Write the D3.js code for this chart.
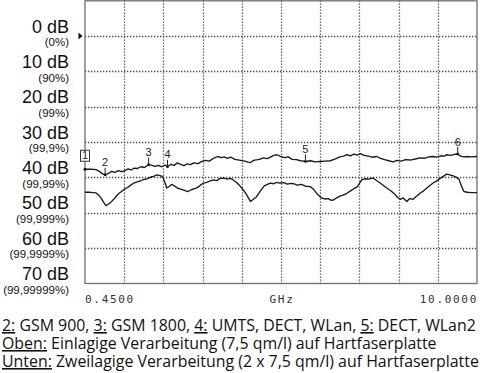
<!DOCTYPE html>
<html lang="de">
<head>
<meta charset="UTF-8">
<title>Dämpfung Hartfaserplatte</title>
<style>
    body { margin: 0; background: #fff; }
    svg { display: block; background: #fff; }
    .frame { fill: none; stroke: #6e6e6e; stroke-width: 1.3; }
    .trace { fill: none; stroke: #1a1a1a; stroke-width: 1.35; stroke-linejoin: round; }
    .dblabel { font-family: "Liberation Sans", Arial, sans-serif; font-size: 18px; fill: #111; text-anchor: end; }
    .pctlabel { font-family: "Liberation Sans", Arial, sans-serif; font-size: 11.5px; fill: #111; text-anchor: end; }
    .xlabel { font-family: "DejaVu Sans Mono", monospace; font-size: 11px; fill: #333; letter-spacing: 1.7px; }
    .mk { font-family: "Liberation Sans", Arial, sans-serif; font-size: 11px; fill: #222; text-anchor: middle; }
    .legend { font-family: "Open Sans", sans-serif; font-size: 15.9px; fill: #111; }
</style>
</head>
<body>
<svg width="480" height="373"></svg>
<script src="https://d3js.org/d3.v7.min.js"></script>
<script>
    // y axis: attenuation in dB and the matching shielding percentage
    const dbTicks = [0, 10, 20, 30, 40, 50, 60, 70];
    const pctTicks = ["(0%)", "(90%)", "(99%)", "(99,9%)", "(99,99%)", "(99,999%)", "(99,9999%)", "(99,99999%)"];

    // x axis: linear span 0.45 .. 10 GHz
    const xStart = 0.45, xStop = 10;
    const xLabels = ["0.4500", "GHz", "10.0000"];

    // Oben: single layer (upper trace), GHz / dB
    const obenGHz = [0.45, 0.6, 0.72, 0.8, 0.88, 0.94, 1.02, 1.1, 1.18, 1.26, 1.34, 1.41, 1.5, 1.58, 1.64, 1.72, 1.81, 1.9,
        2.0, 2.08, 2.16, 2.24, 2.32, 2.4, 2.46, 2.54, 2.62, 2.7, 2.78, 2.86, 2.94, 3.02, 3.1, 3.2, 3.3, 3.39, 3.48, 3.58,
        3.68, 3.76, 3.84, 3.92, 4.0, 4.1, 4.24, 4.34, 4.42, 4.48, 4.56, 4.66, 4.73, 4.8, 4.89, 4.98, 5.05, 5.13, 5.2, 5.3,
        5.4, 5.5, 5.6, 5.7, 5.82, 5.95, 6.05, 6.18, 6.3, 6.43, 6.55, 6.66, 6.75, 6.83, 6.92, 7.0, 7.08, 7.16, 7.25, 7.35,
        7.45, 7.56, 7.65, 7.75, 7.85, 7.96, 8.05, 8.15, 8.26, 8.37, 8.5, 8.6, 8.72, 8.82, 8.93, 9.02, 9.12, 9.2, 9.26,
        9.36, 9.45, 9.53, 9.6, 9.68, 9.75, 9.85, 10.0];
    const obenDB = [37.7, 37.7, 37.8, 38.3, 39.0, 39.3, 38.9, 38.3, 38.6, 38.1, 38.4, 38.2, 37.6, 37.9, 37.4, 37.5, 37.0, 37.2,
        36.4, 36.6, 36.9, 36.6, 37.0, 36.5, 37.0, 36.3, 36.6, 35.9, 36.3, 36.7, 36.2, 36.4, 35.9, 36.1, 35.5, 35.2, 35.4, 34.6,
        34.1, 34.4, 34.2, 34.6, 34.3, 34.9, 35.2, 35.4, 35.7, 35.8, 35.2, 35.0, 34.8, 34.5, 34.7, 34.2, 33.8, 33.6, 34.0, 34.4,
        34.2, 34.9, 35.0, 35.3, 35.5, 35.3, 35.6, 35.5, 35.4, 35.3, 34.8, 34.2, 34.0, 33.6, 33.9, 33.4, 33.7, 33.3, 33.8, 34.0,
        34.3, 34.1, 34.6, 35.0, 35.3, 35.6, 35.2, 35.4, 35.0, 35.1, 34.8, 34.5, 34.6, 34.2, 34.1, 34.3, 33.9, 34.0, 33.6,
        33.8, 33.5, 33.4, 34.0, 34.2, 34.1, 34.2, 34.1];

    // Unten: double layer (lower trace), GHz / dB
    const untenGHz = [0.45, 0.55, 0.65, 0.72, 0.78, 0.84, 0.9, 0.96, 1.02, 1.08, 1.15, 1.22, 1.28, 1.34, 1.4, 1.47, 1.54,
        1.64, 1.72, 1.8, 1.88, 1.96, 2.05, 2.12, 2.2, 2.28, 2.34, 2.4, 2.44, 2.5, 2.56, 2.62, 2.7, 2.78, 2.86, 2.95, 3.04,
        3.12, 3.19, 3.26, 3.34, 3.42, 3.5, 3.58, 3.66, 3.74, 3.83, 3.92, 4.0, 4.07, 4.15, 4.24, 4.3, 4.36, 4.42, 4.48, 4.55,
        4.62, 4.68, 4.75, 4.82, 4.89, 4.97, 5.05, 5.12, 5.2, 5.29, 5.38, 5.46, 5.53, 5.62, 5.72, 5.82, 5.94, 6.02, 6.1, 6.18,
        6.23, 6.3, 6.38, 6.45, 6.5, 6.58, 6.66, 6.74, 6.83, 6.92, 7.0, 7.08, 7.14, 7.2, 7.28, 7.36, 7.47, 7.55, 7.64, 7.72,
        7.8, 7.9, 8.0, 8.06, 8.13, 8.2, 8.29, 8.36, 8.44, 8.52, 8.61, 8.7, 8.8, 8.93, 9.02, 9.1, 9.18, 9.26, 9.34, 9.42, 9.5,
        9.56, 9.62, 9.68, 9.76, 9.86, 10.0];
    const untenDB = [44.2, 44.2, 44.3, 44.4, 45.0, 45.8, 47.0, 48.0, 47.6, 47.0, 46.2, 45.2, 44.5, 44.0, 43.4, 43.0, 42.4,
        41.6, 41.3, 41.0, 40.6, 40.4, 39.9, 39.7, 39.3, 39.5, 39.8, 41.5, 43.0, 42.6, 42.0, 42.3, 43.0, 43.3, 43.6, 44.0, 43.5,
        43.2, 42.9, 42.2, 41.6, 41.4, 41.0, 40.7, 40.9, 40.3, 40.2, 40.5, 40.3, 40.8, 41.5, 42.6, 43.5, 44.4, 45.6, 46.8, 46.2,
        45.6, 44.6, 43.4, 42.4, 42.0, 41.6, 41.8, 41.4, 41.6, 41.5, 41.9, 41.7, 41.8, 42.2, 42.0, 42.5, 42.6, 43.4, 44.6, 45.5,
        45.9, 46.1, 46.0, 46.5, 46.4, 45.8, 45.3, 45.0, 44.5, 43.8, 43.2, 42.7, 41.6, 40.6, 40.4, 40.5, 40.2, 40.9, 41.6, 42.3,
        43.0, 43.8, 44.8, 45.6, 46.2, 45.8, 46.8, 46.0, 46.2, 45.4, 44.5, 43.8, 42.8, 41.6, 41.0, 40.3, 39.7, 39.1, 39.3, 39.6, 40.0,
        40.5, 42.4, 44.0, 44.2, 44.3, 44.3];

    // markers on the upper trace
    const markerIds = ["2", "3", "4", "5", "6"];
    const markerGHz = [0.94, 2.0, 2.46, 5.82, 9.53];

    const svg = d3.select("svg");
    const plotL = 85, plotR = 477, plotT = 0.5, plotB = 283.5;

    const x = d3.scaleLinear().domain([xStart, xStop]).range([plotL, plotR]);
    const y = d3.scaleLinear().domain([-10, 70]).range([plotT, plotB]);
    const crisp = v => Math.round(v) + 0.5;

    // grid: 10 x 8 divisions, dotted
    const grid = svg.append("g")
        .attr("stroke", "#444").attr("stroke-width", 1.3).attr("stroke-dasharray", "1.3 1.7").attr("fill", "none");
    const xDiv = d3.range(1, 10).map(i => xStart + i * (xStop - xStart) / 10);
    xDiv.forEach(d => {
        grid.append("line")
            .attr("x1", crisp(x(d))).attr("x2", crisp(x(d)))
            .attr("y1", plotT).attr("y2", plotB);
    });
    dbTicks.slice(0, 7).forEach(d => {
        grid.append("line")
            .attr("x1", plotL).attr("x2", plotR)
            .attr("y1", crisp(y(d))).attr("y2", crisp(y(d)));
    });

    svg.append("rect").attr("class", "frame")
        .attr("x", plotL).attr("y", plotT + 0.3)
        .attr("width", plotR - plotL).attr("height", plotB - plotT - 0.3);

    // left labels
    svg.selectAll(".dblabel").data(dbTicks).enter().append("text")
        .attr("class", "dblabel")
        .attr("x", 69).attr("y", d => y(d) - 3.3)
        .text(d => d + " dB");
    svg.selectAll(".pctlabel").data(pctTicks).enter().append("text")
        .attr("class", "pctlabel")
        .attr("x", 69).attr("y", (d, i) => y(dbTicks[i]) + 10.3)
        .text(d => d);

    // reference level arrow
    svg.append("path")
        .attr("d", `M${plotL - 6.5},${y(0) - 3.5}L${plotL - 2.5},${y(0)}L${plotL - 6.5},${y(0) + 3.5}Z`)
        .attr("fill", "#111");

    // x labels
    svg.append("text").attr("class", "xlabel").attr("x", plotL).attr("y", 303).text(xLabels[0]);
    svg.append("text").attr("class", "xlabel").attr("x", (plotL + plotR) / 2 + 1).attr("y", 303)
        .attr("text-anchor", "middle").text(xLabels[1]);
    svg.append("text").attr("class", "xlabel").attr("x", plotR + 1).attr("y", 303)
        .attr("text-anchor", "end").text(xLabels[2]);

    // traces
    const line = d3.line().x(d => x(d[0])).y(d => y(d[1]));
    const oben = d3.zip(obenGHz, obenDB);
    const unten = d3.zip(untenGHz, untenDB);
    svg.append("path").attr("class", "trace").attr("d", line(unten));
    svg.append("path").attr("class", "trace").attr("d", line(oben));

    // markers
    const interp = f => {
        const i = Math.max(1, d3.bisectLeft(obenGHz, f));
        const t = (f - obenGHz[i - 1]) / (obenGHz[i] - obenGHz[i - 1]);
        return obenDB[i - 1] + t * (obenDB[i] - obenDB[i - 1]);
    };
    const mk = svg.selectAll(".marker").data(d3.zip(markerIds, markerGHz)).enter().append("g");
    mk.append("line")
        .attr("x1", d => x(d[1])).attr("x2", d => x(d[1]))
        .attr("y1", d => y(interp(d[1])) - 7).attr("y2", d => y(interp(d[1])))
        .attr("stroke", "#222").attr("stroke-width", 1);
    mk.append("circle")
        .attr("cx", d => x(d[1])).attr("cy", d => y(interp(d[1])))
        .attr("r", 1.3).attr("fill", "#111");
    mk.append("text").attr("class", "mk")
        .attr("x", d => x(d[1])).attr("y", d => y(interp(d[1])) - 8.5)
        .text(d => d[0]);

    // marker 1 (boxed) at the start of the span
    const y1 = y(obenDB[0]);
    svg.append("circle").attr("cx", x(xStart)).attr("cy", y1).attr("r", 1.5).attr("fill", "#111");
    svg.append("rect").attr("x", x(xStart) - 4.5).attr("y", y1 - 19).attr("width", 9).attr("height", 11)
        .attr("fill", "#fff").attr("stroke", "#333").attr("stroke-width", 1);
    svg.append("text").attr("class", "mk").attr("font-size", "10px")
        .attr("x", x(xStart)).attr("y", y1 - 9.8).text("1");

    // legend
    const legend = [
        [["2:", true], [" GSM 900, ", false], ["3:", true], [" GSM 1800, ", false], ["4:", true],
         [" UMTS, DECT, WLan, ", false], ["5:", true], [" DECT, WLan2", false]],
        [["Oben:", true], [" Einlagige Verarbeitung (7,5 qm/l) auf Hartfaserplatte", false]],
        [["Unten:", true], [" Zweilagige Verarbeitung (2 x 7,5 qm/l) auf Hartfaserplatte", false]]
    ];
    legend.forEach((parts, i) => {
        const t = svg.append("text").attr("class", "legend").attr("x", 2).attr("y", 331 + i * 18);
        parts.forEach(p => {
            t.append("tspan").text(p[0]).attr("text-decoration", p[1] ? "underline" : null);
        });
    });
</script>
</body>
</html>
